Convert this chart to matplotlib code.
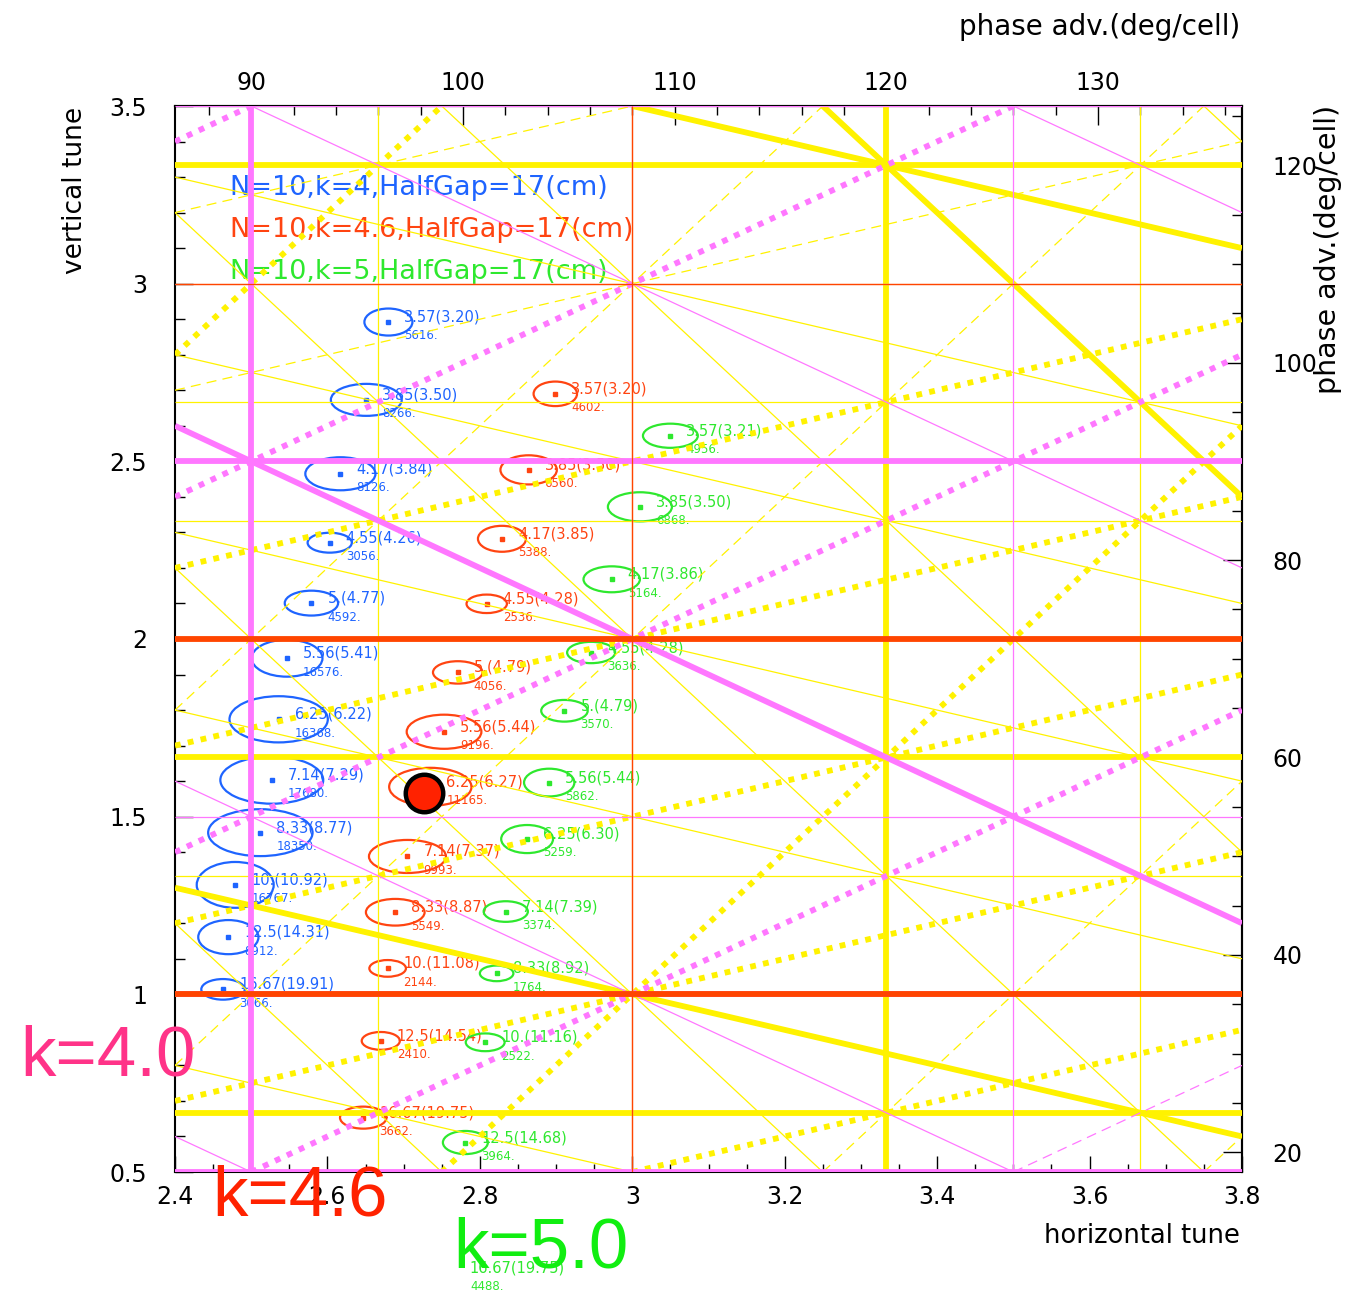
import matplotlib
matplotlib.use('Agg')
import matplotlib.pyplot as plt
from matplotlib.patches import Ellipse
from matplotlib.ticker import MultipleLocator

# cell number (superperiod) and plot window
N_CELL = 10
NUX_LIM = (2.4, 3.8)
NUY_LIM = (0.5, 3.5)

# k = 4 (blue)
blue_nux = [2.680, 2.651, 2.617, 2.603, 2.579, 2.547, 2.536, 2.527, 2.512, 2.479, 2.470, 2.463]
blue_nuy = [2.892, 2.673, 2.465, 2.271, 2.101, 1.946, 1.774, 1.603, 1.455, 1.308, 1.161, 1.014]
blue_w = [0.063, 0.093, 0.092, 0.058, 0.070, 0.093, 0.129, 0.135, 0.137, 0.101, 0.079, 0.057]
blue_h = [0.076, 0.090, 0.093, 0.056, 0.070, 0.104, 0.130, 0.133, 0.132, 0.129, 0.096, 0.058]
blue_labels = ["3.57(3.20)", "3.85(3.50)", "4.17(3.84)", "4.55(4.26)", "5.(4.77)", "5.56(5.41)",
               "6.25(6.22)", "7.14(7.29)", "8.33(8.77)", "10.(10.92)", "12.5(14.31)", "16.67(19.91)"]
blue_numbers = ["5616.", "8266.", "8126.", "3056.", "4592.", "16576.",
                "16368.", "17680.", "18350.", "16767.", "8912.", "3066."]

# k = 4.6 (red)
red_nux = [2.899, 2.864, 2.829, 2.809, 2.771, 2.753, 2.735, 2.705, 2.689, 2.679, 2.670, 2.647]
red_nuy = [2.690, 2.476, 2.282, 2.099, 1.906, 1.739, 1.584, 1.388, 1.231, 1.073, 0.869, 0.653]
red_w = [0.057, 0.074, 0.063, 0.053, 0.065, 0.098, 0.108, 0.101, 0.077, 0.048, 0.050, 0.061]
red_h = [0.069, 0.082, 0.073, 0.052, 0.063, 0.096, 0.107, 0.093, 0.075, 0.047, 0.050, 0.062]
red_labels = ["3.57(3.20)", "3.85(3.50)", "4.17(3.85)", "4.55(4.28)", "5.(4.79)", "5.56(5.44)",
              "6.25(6.27)", "7.14(7.37)", "8.33(8.87)", "10.(11.08)", "12.5(14.54)", "16.67(19.75)"]
red_numbers = ["4602.", "6560.", "5388.", "2536.", "4056.", "9196.",
               "11165.", "9993.", "5549.", "2144.", "2410.", "3662."]

# k = 5 (green)
green_nux = [3.050, 3.010, 2.973, 2.946, 2.911, 2.891, 2.862, 2.834, 2.822, 2.807, 2.781, 2.766]
green_nuy = [2.572, 2.372, 2.168, 1.962, 1.798, 1.596, 1.437, 1.233, 1.059, 0.865, 0.583, 0.216]
green_w = [0.072, 0.084, 0.074, 0.063, 0.061, 0.066, 0.068, 0.058, 0.044, 0.051, 0.059, 0.060]
green_h = [0.068, 0.082, 0.073, 0.060, 0.061, 0.078, 0.079, 0.058, 0.044, 0.050, 0.065, 0.060]
green_labels = ["3.57(3.21)", "3.85(3.50)", "4.17(3.86)", "4.55(4.28)", "5.(4.79)", "5.56(5.44)",
                "6.25(6.30)", "7.14(7.39)", "8.33(8.92)", "10.(11.16)", "12.5(14.68)", "16.67(19.75)"]
green_numbers = ["4956.", "6868.", "5164.", "3636.", "3570.", "5862.",
                 "5259.", "3374.", "1764.", "2522.", "3964.", "4488."]

# chosen working point
wp_nux, wp_nuy = 2.727, 1.567

legend_texts = ["N=10,k=4,HalfGap=17(cm)", "N=10,k=4.6,HalfGap=17(cm)", "N=10,k=5,HalfGap=17(cm)"]

BLUE = '#1e64ff'
RED = '#ff4411'
GREEN = '#2ee82e'
RES_COLORS = {1: '#ff4500', 2: '#ff77ff', 3: '#fff200'}
RES_TERMS = {1: [(1, 0), (0, 1)],
             2: [(2, 0), (0, 2), (1, 1), (1, -1)],
             3: [(3, 0), (0, 3), (2, 1), (1, 2), (2, -1), (1, -2)]}


def segment(m, n, p):
    # part of m*nux + n*nuy = p inside the window
    x0, x1 = NUX_LIM
    y0, y1 = NUY_LIM
    if n == 0:
        x = p / m
        return ([x, x], [y0, y1]) if x0 <= x <= x1 else None
    if m == 0:
        y = p / n
        return ([x0, x1], [y, y]) if y0 <= y <= y1 else None
    xa, xb = sorted([(p - n * y0) / m, (p - n * y1) / m])
    lo, hi = max(x0, xa), min(x1, xb)
    if lo >= hi:
        return None
    return [lo, hi], [(p - m * lo) / n, (p - m * hi) / n]


def draw_resonances(ax):
    # structural (p divides N) lines thick, sum solid, difference dotted/dashed
    for order in (3, 2, 1):
        for m, n in RES_TERMS[order]:
            for p in range(-20, 21):
                seg = segment(m, n, p)
                if seg is None:
                    continue
                thick = p == 0 or N_CELL % abs(p) == 0
                diff = m * n < 0
                kw = dict(color=RES_COLORS[order], zorder=3, solid_capstyle='butt')
                if thick:
                    kw['lw'] = 4.2
                    if diff:
                        kw['dashes'] = (1, 1.25)
                        kw['dash_capstyle'] = 'butt'
                else:
                    kw['lw'] = 0.9
                    if diff:
                        kw['dashes'] = (8, 5)
                ax.plot(seg[0], seg[1], **kw)


def draw_series(ax, nux, nuy, w, h, labels, numbers, color):
    for x, y, ew, eh, lab, num in zip(nux, nuy, w, h, labels, numbers):
        ax.add_patch(Ellipse((x, y), ew, eh, fill=False, ec=color, lw=1.6, zorder=2))
        ax.plot(x, y, 's', ms=2.2, color=color, zorder=2)
        ax.annotate(lab, (x, y), xytext=(11.5, 3.6), textcoords='offset points', fontsize=10.5,
                    color=color, va='center', ha='left', annotation_clip=False, zorder=2)
        ax.annotate(num, (x, y), xytext=(11.5, -10), textcoords='offset points', fontsize=8.5,
                    color=color, va='center', ha='left', annotation_clip=False, zorder=2)


W, H = 1364, 1290
fig = plt.figure(figsize=(W / 100, H / 100), dpi=100)
ax = fig.add_axes([175 / W, 118 / H, 1067 / W, 1066 / H])
ax.set_xlim(*NUX_LIM)
ax.set_ylim(*NUY_LIM)

draw_resonances(ax)
draw_series(ax, blue_nux, blue_nuy, blue_w, blue_h, blue_labels, blue_numbers, BLUE)
draw_series(ax, red_nux, red_nuy, red_w, red_h, red_labels, red_numbers, RED)
draw_series(ax, green_nux, green_nuy, green_w, green_h, green_labels, green_numbers, GREEN)
ax.plot(wp_nux, wp_nuy, 'o', ms=27, mfc='#ff2200', mec='black', mew=3.2, zorder=6)

for i, (txt, c) in enumerate(zip(legend_texts, [BLUE, RED, GREEN])):
    ax.text(0.0506, 0.923 - 0.0395 * i, txt, transform=ax.transAxes, fontsize=19.5,
            color=c, va='center', ha='left', zorder=2)

# axes frame and ticks
for s in ax.spines.values():
    s.set_linewidth(1.5)
ax.xaxis.set_major_locator(MultipleLocator(0.2))
ax.xaxis.set_minor_locator(MultipleLocator(0.05))
ax.yaxis.set_major_locator(MultipleLocator(0.5))
ax.yaxis.set_minor_locator(MultipleLocator(0.1))
ax.xaxis.set_major_formatter(lambda v, pos: f'{v:g}')
ax.yaxis.set_major_formatter(lambda v, pos: f'{v:g}')
ax.tick_params(which='both', direction='in', top=False, right=False, width=1.0, labelsize=17)
ax.tick_params(axis='x', which='major', length=11.5, pad=9)
ax.tick_params(axis='x', which='minor', length=5.8)
ax.tick_params(axis='y', which='major', length=13, pad=20)
ax.tick_params(axis='y', which='minor', length=7.2)

to_phase = lambda t: t * 360.0 / N_CELL
to_tune = lambda p: p * N_CELL / 360.0
top = ax.secondary_xaxis('top', functions=(to_phase, to_tune))
top.xaxis.set_major_locator(MultipleLocator(10))
top.xaxis.set_minor_locator(MultipleLocator(2))
top.tick_params(which='both', direction='in', width=1.0, labelsize=17)
top.tick_params(which='major', length=14, pad=8)
top.tick_params(which='minor', length=6.5)
right = ax.secondary_yaxis('right', functions=(to_phase, to_tune))
right.yaxis.set_major_locator(MultipleLocator(20))
right.yaxis.set_minor_locator(MultipleLocator(5))
right.tick_params(which='both', direction='in', width=1.0, labelsize=17)
right.tick_params(which='major', length=14, pad=22)
right.tick_params(which='minor', length=7)
for sec in (top, right):
    for s in sec.spines.values():
        s.set_linewidth(1.5)

# axis titles
fig.text(75 / W, 1 - 107 / H, 'vertical tune', rotation=90, ha='center', va='top', fontsize=19)
fig.text(1240 / W, 1 - 1236 / H, 'horizontal tune', ha='right', va='center', fontsize=18.5)
fig.text(1240 / W, 1 - 27 / H, 'phase adv.(deg/cell)', ha='right', va='center', fontsize=20)
fig.text(1328 / W, 1 - 105 / H, 'phase adv.(deg/cell)', rotation=90, ha='center', va='top', fontsize=20.5)

# big k labels
big = dict(family='Liberation Sans', fontsize=51, va='baseline', ha='left')
fig.text(20 / W, 1 - 1075 / H, 'k=4.0', color='#ff3388', **big)
fig.text(212 / W, 1 - 1215 / H, 'k=4.6', color='#ff2200', **big)
fig.text(453 / W, 1 - 1267 / H, 'k=5.0', color='#11ee11', **big)

fig.savefig('out.png', dpi=100)
